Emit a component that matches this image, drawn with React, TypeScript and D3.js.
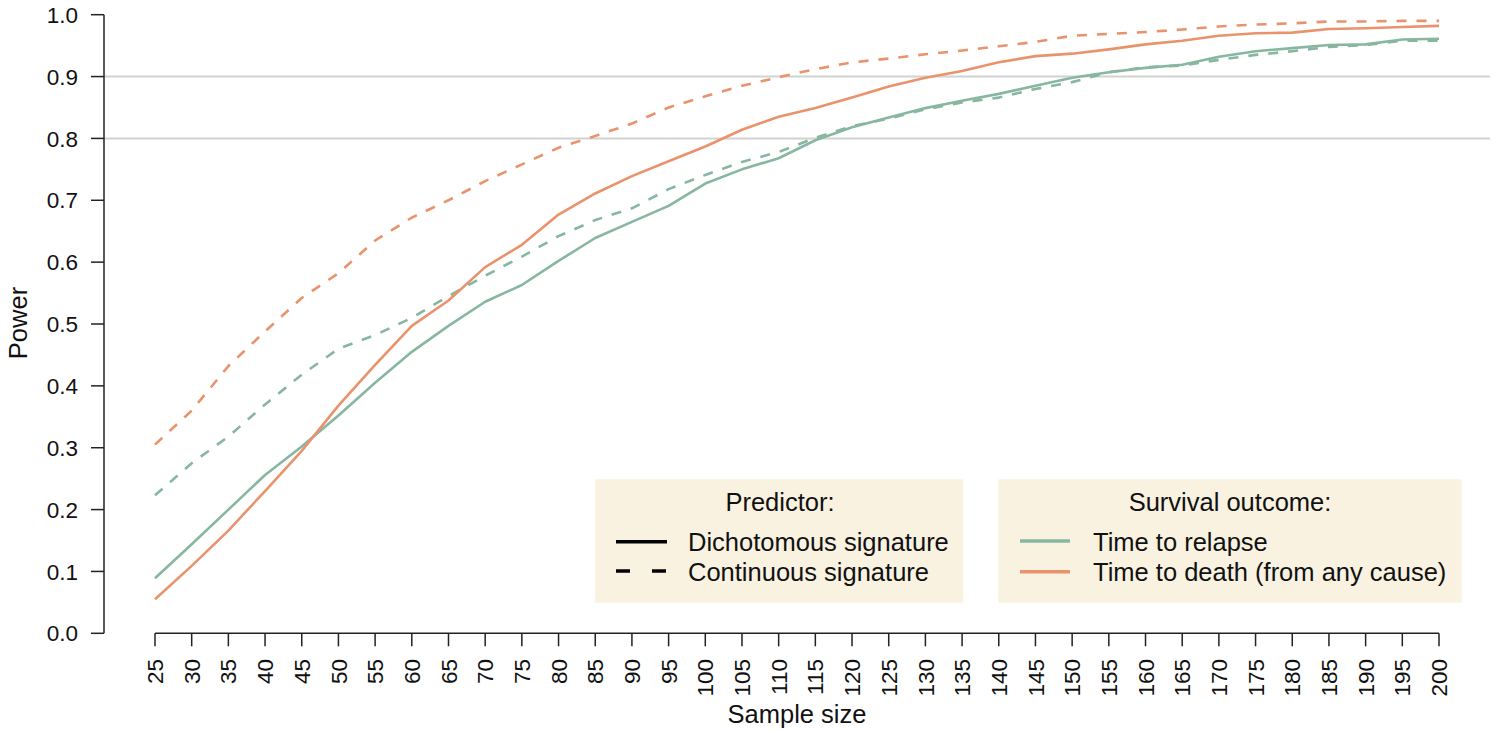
import React from "react";
import * as d3 from "d3";

const sampleSizes = [25, 30, 35, 40, 45, 50, 55, 60, 65, 70, 75, 80, 85, 90, 95, 100, 105, 110, 115, 120, 125, 130, 135, 140, 145, 150, 155, 160, 165, 170, 175, 180, 185, 190, 195, 200];

const relapseDichotomous = [0.089, 0.144, 0.2, 0.256, 0.302, 0.352, 0.405, 0.455, 0.497, 0.536, 0.563, 0.602, 0.639, 0.665, 0.691, 0.727, 0.75, 0.768, 0.797, 0.818, 0.834, 0.849, 0.861, 0.872, 0.885, 0.898, 0.907, 0.914, 0.919, 0.932, 0.941, 0.946, 0.951, 0.952, 0.96, 0.961];
const relapseContinuous = [0.223, 0.275, 0.318, 0.37, 0.418, 0.46, 0.482, 0.51, 0.545, 0.578, 0.609, 0.642, 0.668, 0.687, 0.718, 0.741, 0.762, 0.778, 0.801, 0.82, 0.832, 0.847, 0.858, 0.866, 0.88, 0.891, 0.907, 0.915, 0.918, 0.927, 0.935, 0.941, 0.948, 0.951, 0.958, 0.958];
const deathDichotomous = [0.055, 0.109, 0.166, 0.23, 0.295, 0.368, 0.434, 0.497, 0.538, 0.592, 0.628, 0.677, 0.711, 0.739, 0.763, 0.787, 0.814, 0.835, 0.849, 0.866, 0.884, 0.898, 0.909, 0.923, 0.933, 0.937, 0.944, 0.952, 0.958, 0.966, 0.97, 0.971, 0.977, 0.978, 0.98, 0.982];
const deathContinuous = [0.305, 0.36, 0.432, 0.488, 0.542, 0.582, 0.635, 0.672, 0.7, 0.731, 0.758, 0.785, 0.804, 0.824, 0.85, 0.868, 0.885, 0.899, 0.912, 0.923, 0.929, 0.936, 0.942, 0.949, 0.956, 0.966, 0.969, 0.972, 0.976, 0.981, 0.984, 0.986, 0.989, 0.989, 0.99, 0.99];

const yTicks = [0, 0.1, 0.2, 0.3, 0.4, 0.5, 0.6, 0.7, 0.8, 0.9, 1.0];
const refLines = [0.8, 0.9];

const predictorLabels = ["Dichotomous signature", "Continuous signature"];
const outcomeLabels = ["Time to relapse", "Time to death (from any cause)"];

const TEAL = "#87b6a1";
const ORANGE = "#e9936c";
const FONT = "'Liberation Sans', Arial, Helvetica, sans-serif";
const TICK_FS = 22.5;
const TITLE_FS = 25.5;

export default function App() {
  const x = d3.scaleLinear().domain([25, 200]).range([155, 1439]);
  const y = d3.scaleLinear().domain([0, 1]).range([633.3, 14.7]);
  const line = d3
    .line<number>()
    .x((_, i) => x(sampleSizes[i]))
    .y((d) => y(d));

  const series = [
    { values: relapseContinuous, color: TEAL, dash: "10 10" },
    { values: deathContinuous, color: ORANGE, dash: "10 10" },
    { values: relapseDichotomous, color: TEAL, dash: null },
    { values: deathDichotomous, color: ORANGE, dash: null },
  ];

  const axisX = 104;
  const axisY = 633.3;

  return (
    <svg
      width={1494}
      height={731}
      style={{ position: "absolute", left: 0, top: 0, background: "#fff" }}
      fontFamily={FONT}
    >
      {refLines.map((v) => (
        <line key={v} x1={axisX} x2={1490} y1={y(v)} y2={y(v)} stroke="#d2d2d2" strokeWidth={2} />
      ))}

      {series.map((s, i) => (
        <path
          key={i}
          d={line(s.values) || ""}
          fill="none"
          stroke={s.color}
          strokeWidth={2.6}
          strokeDasharray={s.dash || undefined}
          strokeLinejoin="round"
        />
      ))}

      {/* Y axis */}
      <line x1={axisX} x2={axisX} y1={y(0)} y2={y(1)} stroke="#222" strokeWidth={1.5} />
      {yTicks.map((t) => (
        <g key={t}>
          <line x1={axisX - 13} x2={axisX} y1={y(t)} y2={y(t)} stroke="#222" strokeWidth={1.5} />
          <text x={78} y={y(t)} dy="0.36em" textAnchor="end" fontSize={TICK_FS} fill="#111">
            {t.toFixed(1)}
          </text>
        </g>
      ))}
      <text
        transform={`translate(18,323) rotate(-90)`}
        textAnchor="middle"
        dy="0.36em"
        fontSize={TITLE_FS}
        fill="#111"
      >
        Power
      </text>

      {/* X axis */}
      <line x1={x(25)} x2={x(200)} y1={axisY} y2={axisY} stroke="#222" strokeWidth={1.5} />
      {sampleSizes.map((n) => (
        <g key={n}>
          <line x1={x(n)} x2={x(n)} y1={axisY} y2={axisY + 13} stroke="#222" strokeWidth={1.5} />
          <text
            transform={`translate(${x(n)},659) rotate(-90)`}
            textAnchor="end"
            dy="0.36em"
            fontSize={TICK_FS}
            fill="#111"
          >
            {n}
          </text>
        </g>
      ))}
      <text x={797} y={723} textAnchor="middle" fontSize={TITLE_FS} fill="#111">
        Sample size
      </text>

      {/* Legend: predictor */}
      <rect x={595} y={479.3} width={368.3} height={123.4} fill="#f9f2e1" />
      <text x={780} y={511} textAnchor="middle" fontSize={TITLE_FS} fill="#111">
        Predictor:
      </text>
      <line x1={616} x2={667} y1={541.7} y2={541.7} stroke="#000" strokeWidth={3.5} />
      <line x1={616} x2={666} y1={571} y2={571} stroke="#000" strokeWidth={3.5} strokeDasharray="14 22" />
      <text x={688} y={551} fontSize={TITLE_FS} fill="#111">
        {predictorLabels[0]}
      </text>
      <text x={688} y={581} fontSize={TITLE_FS} fill="#111">
        {predictorLabels[1]}
      </text>

      {/* Legend: outcome */}
      <rect x={998.3} y={479.3} width={463.4} height={123.4} fill="#f9f2e1" />
      <text x={1230} y={511} textAnchor="middle" fontSize={TITLE_FS} fill="#111">
        Survival outcome:
      </text>
      <line x1={1020} x2={1070} y1={541} y2={541} stroke={TEAL} strokeWidth={3.5} />
      <line x1={1020} x2={1070} y1={571.7} y2={571.7} stroke={ORANGE} strokeWidth={3.5} />
      <text x={1093} y={551} fontSize={TITLE_FS} fill="#111">
        {outcomeLabels[0]}
      </text>
      <text x={1093} y={581} fontSize={TITLE_FS} fill="#111">
        {outcomeLabels[1]}
      </text>
    </svg>
  );
}
